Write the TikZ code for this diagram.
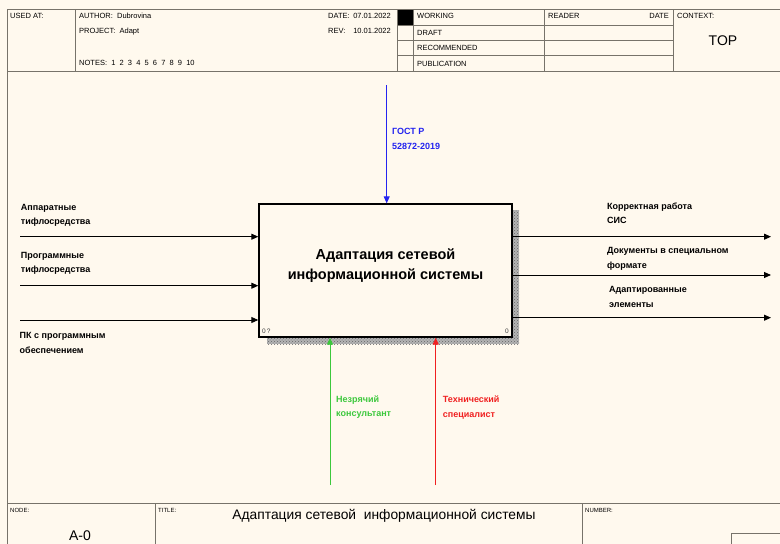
\documentclass[tikz,border=0pt]{standalone}
\usepackage{fontspec}
\setmainfont{Liberation Sans}
\usetikzlibrary{arrows.meta,positioning,patterns}
\definecolor{idef-bg}{HTML}{FFF9EE}
\definecolor{idef-frame}{HTML}{77736A}
\definecolor{idef-blue}{HTML}{2424F0}
\definecolor{idef-green}{HTML}{3CC83C}
\definecolor{idef-red}{HTML}{F02020}
\definecolor{idef-shadow}{HTML}{B4B4B4}
\tikzset{
  frameline/.style={idef-frame,line width=1pt},
  hdrtext/.style={font=\fontsize{7.5}{8}\selectfont,inner sep=0pt,anchor=base west},
  tinytext/.style={font=\fontsize{6}{7}\selectfont,inner sep=0pt,anchor=base west},
  arrowlabel/.style={font=\bfseries\fontsize{9}{14.5}\selectfont,align=left,inner sep=0pt,anchor=west},
  flow/.style={line width=0.9pt,-{Triangle[length=7pt,width=6pt]}},
  fnbox/.style={draw,line width=1.4pt,fill=idef-bg,minimum width=253pt,minimum height=133pt,inner sep=0pt},
}

\begin{document}
\begin{tikzpicture}[x=1pt,y=-1pt]
  \useasboundingbox (0,0) rectangle (780,544);
  \fill[idef-bg] (0,0) rectangle (780,544);

  % header frame
  \fill (397,9) rectangle (413,25);
  \draw[frameline] (7,546) -- (7,9) -- (782,9);
  \draw[frameline] (7,71) -- (782,71);
  \foreach \x in {75,397,413,544,673} \draw[frameline] (\x,9) -- (\x,71);
  \foreach \y in {25,40.5,55.7} \draw[frameline] (397,\y) -- (673,\y);

  % header texts
  \node[hdrtext] (usedat) at (10,18.5) {USED AT:};
  \node[hdrtext] (author) at (79,18.5) {AUTHOR:\ \ Dubrovina};
  \node[hdrtext] (project) at (79,33.5) {PROJECT:\ \ Adapt};
  \node[hdrtext] (notes) at (79,65.5) {NOTES:\ \ 1\ \ 2\ \ 3\ \ 4\ \ 5\ \ 6\ \ 7\ \ 8\ \ 9\ \ 10};
  \node[hdrtext] (datelbl) at (328,18.5) {DATE:};
  \node[hdrtext,anchor=base east] (dateval) at (391,18.5) {07.01.2022};
  \node[hdrtext] (revlbl) at (328,33.5) {REV:};
  \node[hdrtext,anchor=base east] (revval) at (391,33.5) {10.01.2022};
  \node[hdrtext] (working) at (417,18.5) {WORKING};
  \node[hdrtext] (draft) at (417,35) {DRAFT};
  \node[hdrtext] (recommended) at (417,50.5) {RECOMMENDED};
  \node[hdrtext] (publication) at (417,66) {PUBLICATION};
  \node[hdrtext] (reader) at (548,18.5) {READER};
  \node[hdrtext,anchor=base east] (readerdate) at (669,18.5) {DATE};
  \node[hdrtext] (context) at (677,18.5) {CONTEXT:};
  \node[font=\fontsize{14}{16}\selectfont,inner sep=0pt] (top) at (723,41) {TOP};

  % function box with shadow
  \fill[idef-shadow] (267,337) rectangle (519,344);
  \fill[idef-shadow] (512,210) rectangle (519,344);
  \fill[pattern=crosshatch dots,pattern color=gray!80!black] (267,337) rectangle (519,344);
  \fill[pattern=crosshatch dots,pattern color=gray!80!black] (512,210) rectangle (519,337);
  \node[fnbox] (fn) at (385.5,270.5) {};
  \node[font=\bfseries\fontsize{14.5}{20}\selectfont,align=center,inner sep=0pt]
    (fntitle) at ([yshift=5pt]fn.center) {Адаптация сетевой\\информационной системы};
  \node[tinytext,font=\fontsize{6.5}{7}\selectfont,text=black!75] (fnnum) at (262,333) {0\,?};
  \node[tinytext,font=\fontsize{6.5}{7}\selectfont,text=black!75,anchor=base east] (fncost) at (509,333) {0};

  % inputs
  \coordinate (in1) at (20,236.7);
  \coordinate (in2) at (20,285.7);
  \coordinate (in3) at (20,320);
  \foreach \i in {in1,in2,in3} \draw[flow] (\i) -- (\i -| fn.west);
  \node[arrowlabel] (in1lbl) at (20.7,215.3) {Аппаратные\\тифлосредства};
  \node[arrowlabel] (in2lbl) at (20.7,263.4) {Программные\\тифлосредства};
  \node[arrowlabel] (in3lbl) at (19.5,343) {ПК с программным\\обеспечением};

  % outputs
  \coordinate (out1) at (771,236.7);
  \coordinate (out2) at (771,275);
  \coordinate (out3) at (771,317.7);
  \foreach \o in {out1,out2,out3} \draw[flow] (\o -| fn.east) -- (\o);
  \node[arrowlabel] (out1lbl) at (607,213) {Корректная работа\\СИС};
  \node[arrowlabel] (out2lbl) at (607,258.7) {Документы в специальном\\формате};
  \node[arrowlabel] (out3lbl) at (609,297) {Адаптированные\\элементы};

  % control
  \coordinate (ctl) at (386.7,85);
  \draw[flow,idef-blue] (ctl) -- (ctl |- fn.north);
  \node[arrowlabel,text=idef-blue] (ctllbl) at (392,138.7) {ГОСТ Р\\52872-2019};

  % mechanisms
  \coordinate (mech1) at (330,485);
  \coordinate (mech2) at (435.7,485);
  \draw[flow,idef-green] (mech1) -- (mech1 |- fn.south);
  \draw[flow,idef-red] (mech2) -- (mech2 |- fn.south);
  \node[arrowlabel,text=idef-green] (mech1lbl) at (336,407) {Незрячий\\консультант};
  \node[arrowlabel,text=idef-red] (mech2lbl) at (442.7,407.3) {Технический\\специалист};

  % footer
  \draw[frameline] (7,503.5) -- (782,503.5);
  \foreach \x in {155,582} \draw[frameline] (\x,503.5) -- (\x,546);
  \draw[frameline] (731,546) -- (731,533) -- (782,533);
  \node[tinytext] (node) at (10,512) {NODE:};
  \node[tinytext] (title) at (158,512) {TITLE:};
  \node[tinytext] (number) at (585,512) {NUMBER:};
  \node[font=\fontsize{13.8}{16}\selectfont,inner sep=0pt] (titletext) at (384,516) {Адаптация сетевой\ \ информационной системы};
  \node[font=\fontsize{14}{16}\selectfont,inner sep=0pt] (nodeid) at (80,536) {A-0};
\end{tikzpicture}
\end{document}
